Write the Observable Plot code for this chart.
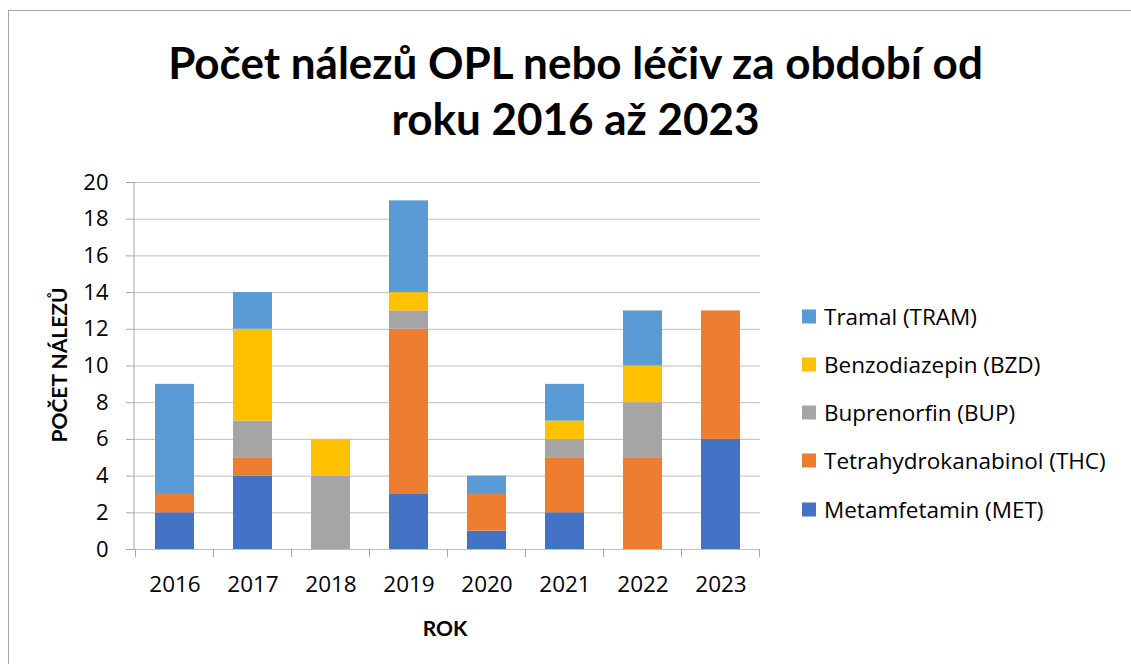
<!DOCTYPE html>
<html>
<head>
<meta charset="utf-8">
<script src="https://cdn.jsdelivr.net/npm/d3@7"></script>
<script src="https://cdn.jsdelivr.net/npm/@observablehq/plot@0.6"></script>
<style>
  html, body { margin: 0; padding: 0; background: #fff; overflow: hidden; }
  #wrap { position: relative; width: 1131px; height: 664px; overflow: hidden; font-family: Lato, "Open Sans", sans-serif; }
  #border { position: absolute; left: 8px; top: 10px; width: 1200px; height: 800px; border: 1px solid #a6a6a6; box-sizing: border-box; }
  #title { position: absolute; left: 0; width: 1151px; top: 34px; text-align: center; font-weight: 700; font-size: 44px; line-height: 56px; color: #000; }
  #chart { position: absolute; left: 0; top: 0; }
  #ylabel { position: absolute; left: 58px; top: 365px; transform: translate(-50%, -50%) rotate(-90deg); font-weight: 700; font-size: 21px; white-space: nowrap; color: #000; }
  #xlabel { position: absolute; left: 445px; top: 627px; transform: translate(-50%, -50%); font-weight: 700; font-size: 21px; color: #000; }
  #legend { position: absolute; left: 802px; top: 0; }
  .li { position: absolute; left: 0; display: flex; align-items: center; white-space: nowrap; font-size: 22.5px; font-family: "Open Sans", Lato, sans-serif; color: #000; transform: translateY(-50%); }
  .sw { width: 14px; height: 14px; margin-right: 8px; }
</style>
</head>
<body>
<div id="wrap">
  <div id="border"></div>
  <div id="title">Počet nálezů OPL nebo léčiv za období od<br>roku 2016 až 2023</div>
  <div id="chart"></div>
  <div id="ylabel">POČET NÁLEZŮ</div>
  <div id="xlabel">ROK</div>
  <div id="legend"></div>
</div>
<script>
const years = ["2016", "2017", "2018", "2019", "2020", "2021", "2022", "2023"];
const seriesNames = ["Metamfetamin (MET)", "Tetrahydrokanabinol (THC)", "Buprenorfin (BUP)", "Benzodiazepin (BZD)", "Tramal (TRAM)"];
const met  = [2, 4, 0, 3, 1, 2, 0, 6];
const thc  = [1, 1, 0, 9, 2, 3, 5, 7];
const bup  = [0, 2, 4, 1, 0, 1, 3, 0];
const bzd  = [0, 5, 2, 1, 0, 1, 2, 0];
const tram = [6, 2, 0, 5, 1, 2, 3, 0];
const seriesColors = ["#4472C4", "#ED7D31", "#A5A5A5", "#FFC000", "#5B9BD5"];
const yTicks = [0, 2, 4, 6, 8, 10, 12, 14, 16, 18, 20];

const seriesValues = [met, thc, bup, bzd, tram];
const data = [];
seriesNames.forEach((s, si) => {
  years.forEach((y, yi) => data.push({ year: y, drug: s, value: seriesValues[si][yi] }));
});

const W = 1131, H = 664;
const mL = 134, mR = 371, mT = 182, mB = 115;

// axis line and band-boundary ticks drawn from the library's scales
function axisLines(index, scales, values, dim) {
  const g = d3.create("svg:g");
  const x = scales.x;
  const step = x.step ? x.step() : (dim.width - dim.marginLeft - dim.marginRight) / years.length;
  const bw = x.bandwidth ? x.bandwidth() : 0;
  const y0 = scales.y(0);
  g.append("line")
    .attr("x1", dim.marginLeft).attr("x2", dim.marginLeft)
    .attr("y1", scales.y(20)).attr("y2", y0)
    .attr("stroke", "#a6a6a6").attr("stroke-width", 1);
  const bounds = years.map(yr => x(yr) - (step - bw) / 2);
  bounds.push(x(years[years.length - 1]) + bw + (step - bw) / 2);
  bounds.forEach(bx => {
    g.append("line")
      .attr("x1", bx).attr("x2", bx)
      .attr("y1", y0).attr("y2", y0 + 8)
      .attr("stroke", "#a6a6a6").attr("stroke-width", 1);
  });
  return g.node();
}

const chart = Plot.plot({
  width: W,
  height: H,
  marginLeft: mL,
  marginRight: mR,
  marginTop: mT,
  marginBottom: mB,
  style: { fontFamily: "'Open Sans', Lato, sans-serif", fontSize: "22px", color: "#000", background: "transparent", overflow: "visible" },
  x: { domain: years, paddingInner: 0.5, paddingOuter: 0.25, label: null },
  y: { domain: [0, 20], label: null },
  color: { domain: seriesNames, range: seriesColors },
  marks: [
    Plot.gridY(yTicks, { stroke: "#bfbfbf", strokeOpacity: 1, strokeWidth: 1 }),
    Plot.axisY(yTicks, { tickSize: 8, tickPadding: 18, stroke: "#a6a6a6", fontSize: 22, label: null }),
    Plot.axisX({ tickSize: 0, tickPadding: 27, fontSize: 22.5, label: null }),
    Plot.barY(data, { x: "year", y: "value", fill: "drug" }),
    axisLines
  ]
});
document.getElementById("chart").appendChild(chart);

const legend = document.getElementById("legend");
const legendY = [316, 364, 412, 460, 509];
[...seriesNames].reverse().forEach((s, i) => {
  const d = document.createElement("div");
  d.className = "li";
  d.style.top = legendY[i] + "px";
  const sw = document.createElement("div");
  sw.className = "sw";
  sw.style.background = seriesColors[seriesNames.indexOf(s)];
  const t = document.createElement("span");
  t.textContent = s;
  d.appendChild(sw); d.appendChild(t);
  legend.appendChild(d);
});
</script>
</body>
</html>
